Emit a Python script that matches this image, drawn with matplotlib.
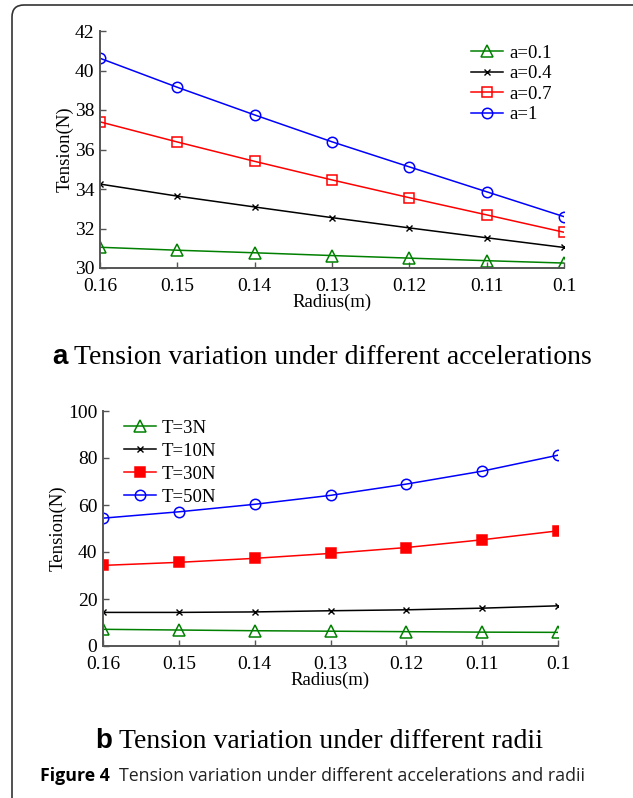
import matplotlib
matplotlib.use("Agg")
import matplotlib.pyplot as plt
from matplotlib.patches import FancyBboxPatch
from matplotlib.transforms import IdentityTransform

# ---- data ----
radius = [0.16, 0.15, 0.14, 0.13, 0.12, 0.11, 0.10]
radius_ticks = [0.16, 0.15, 0.14, 0.13, 0.12, 0.11, 0.1]
radius_ticklabels = ["0.16", "0.15", "0.14", "0.13", "0.12", "0.11", "0.1"]

accel_labels = ["a=0.1", "a=0.4", "a=0.7", "a=1"]
tension_a01 = [31.05, 30.90, 30.77, 30.63, 30.50, 30.37, 30.25]
tension_a04 = [34.25, 33.64, 33.09, 32.55, 32.03, 31.53, 31.04]
tension_a07 = [37.40, 36.38, 35.40, 34.46, 33.56, 32.69, 31.81]
tension_a1 = [40.62, 39.15, 37.75, 36.39, 35.12, 33.86, 32.60]
yticks_a = [30, 32, 34, 36, 38, 40, 42]

force_labels = ["T=3N", "T=10N", "T=30N", "T=50N"]
tension_T3 = [7.1, 6.8, 6.5, 6.3, 6.1, 5.9, 5.8]
tension_T10 = [14.3, 14.3, 14.5, 15.0, 15.4, 16.1, 17.1]
tension_T30 = [34.3, 35.6, 37.3, 39.4, 41.9, 45.2, 49.0]
tension_T50 = [54.4, 57.1, 60.3, 64.1, 68.9, 74.4, 81.2]
yticks_b = [0, 20, 40, 60, 80, 100]

W, H = 633, 798
fig = plt.figure(figsize=(W / 100, H / 100), dpi=100)
fig.patch.set_facecolor("white")

serif = ["Liberation Serif", "DejaVu Serif"]
GREEN = "#008000"
FS = 14


def style_axes(ax):
    for s in ["top", "right"]:
        ax.spines[s].set_visible(False)
    for s in ["left", "bottom"]:
        ax.spines[s].set_color("#555555")
        ax.spines[s].set_linewidth(1.4)
    ax.tick_params(direction="in", length=4, width=1.0, color="#555555",
                   labelsize=FS)
    ax.tick_params(axis="x", pad=7)
    ax.tick_params(axis="y", pad=4)
    for lab in ax.get_xticklabels() + ax.get_yticklabels():
        lab.set_family(serif)
    ax.set_xlabel("Radius(m)", family=serif, fontsize=13.5, labelpad=-1)
    ax.set_ylabel("Tension(N)", family=serif, fontsize=13.5, labelpad=1)


def rect(l, t, r, b):
    return [l / W, 1 - b / H, (r - l) / W, (b - t) / H]


# ---- top plot ----
ax1 = fig.add_axes(rect(100, 31, 564, 268))
ax1.plot(radius, tension_a01, color=GREEN, marker="^", mfc="none", ms=8, mew=1.1, lw=1.1, label=accel_labels[0])
ax1.plot(radius, tension_a04, color="black", marker="x", ms=4, mew=1.0, lw=1.1, label=accel_labels[1])
ax1.plot(radius, tension_a07, color="red", marker="s", mfc="none", ms=6.5, mew=1.1, lw=1.1, label=accel_labels[2])
ax1.plot(radius, tension_a1, color="blue", marker="o", mfc="none", ms=7.5, mew=1.1, lw=1.1, label=accel_labels[3])
ax1.set_xlim(0.16, 0.1)
ax1.set_ylim(30, 42)
ax1.set_xticks(radius_ticks)
ax1.set_xticklabels(radius_ticklabels)
ax1.set_yticks(yticks_a)
style_axes(ax1)
leg1 = ax1.legend(loc="upper left", bbox_to_anchor=(463 / W, 1 - 37 / H),
                  bbox_transform=fig.transFigure, frameon=False,
                  prop={"family": serif, "size": 13.5}, handlelength=1.75,
                  handletextpad=0.3, labelspacing=0.18, borderaxespad=0)

# ---- bottom plot ----
ax2 = fig.add_axes(rect(103, 411, 558, 646))
ax2.plot(radius, tension_T3, color=GREEN, marker="^", mfc="none", ms=8, mew=1.1, lw=1.1, label=force_labels[0])
ax2.plot(radius, tension_T10, color="black", marker="x", ms=4, mew=1.0, lw=1.1, label=force_labels[1])
ax2.plot(radius, tension_T30, color="red", marker="s", mfc="red", ms=6.5, mew=1.1, lw=1.1, label=force_labels[2])
ax2.plot(radius, tension_T50, color="blue", marker="o", mfc="none", ms=7.5, mew=1.1, lw=1.1, label=force_labels[3])
ax2.set_xlim(0.16, 0.1)
ax2.set_ylim(0, 100)
ax2.set_xticks(radius_ticks)
ax2.set_xticklabels(radius_ticklabels)
ax2.set_yticks(yticks_b)
style_axes(ax2)
leg2 = ax2.legend(loc="upper left", bbox_to_anchor=(116 / W, 1 - 412 / H),
                  bbox_transform=fig.transFigure, frameon=False,
                  prop={"family": serif, "size": 13.5}, handlelength=1.75,
                  handletextpad=0.3, labelspacing=0.32, borderaxespad=0)

# ---- captions ----
def caption(x, y, letter, text, fs=20):
    t1 = fig.text(x / W, 1 - y / H, letter, family=["Liberation Sans", "DejaVu Sans"],
                  weight="bold", fontsize=fs, va="center", ha="left")
    fig.canvas.draw()
    bb = t1.get_window_extent()
    fig.text((bb.x1 + 7) / W, 1 - y / H, text, family=serif, fontsize=fs,
             va="center", ha="left")

caption(52, 357, "a", "Tension variation under different accelerations", 20)
caption(95, 741, "b", "Tension variation under different radii", 20)

t3 = fig.text(40 / W, 1 - 776 / H, "Figure 4", family=["Open Sans", "DejaVu Sans"],
              weight="bold", fontsize=12.8, va="center", ha="left")
fig.canvas.draw()
bb3 = t3.get_window_extent()
fig.text((bb3.x1 + 9) / W, 1 - 776 / H,
         "Tension variation under different accelerations and radii",
         family=["Open Sans", "DejaVu Sans"], fontsize=12.8, va="center", ha="left",
         color="#222222")

# ---- rounded border ----
border = FancyBboxPatch((12, -30), 660, 30 + (H - 5),
                        boxstyle="round,pad=0,rounding_size=12",
                        transform=IdentityTransform(), facecolor="none",
                        edgecolor="#333333", linewidth=1.2, clip_on=False)
fig.add_artist(border)

fig.savefig("out.png", dpi=100)
